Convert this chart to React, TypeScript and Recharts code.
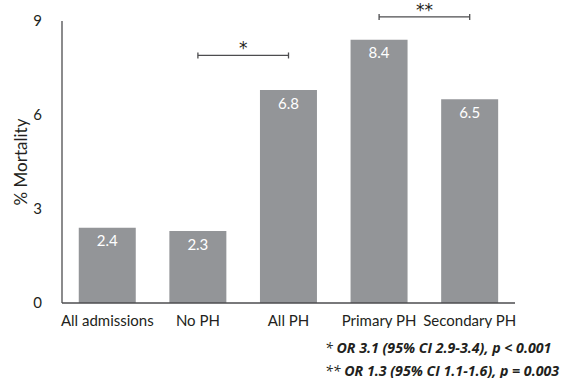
import React from 'react';
import {
  BarChart,
  Bar,
  XAxis,
  YAxis,
  LabelList,
  ReferenceLine,
  Label
} from 'recharts';

const categories = ['All admissions', 'No PH', 'All PH', 'Primary PH', 'Secondary PH'];
const mortality = [2.4, 2.3, 6.8, 8.4, 6.5];
const yTicks = [0, 3, 6, 9];

// significance brackets between category pairs
const bracketFrom = ['No PH', 'Primary PH'];
const bracketTo = ['All PH', 'Secondary PH'];
const bracketLevel = [7.9, 9.13];
const bracketMark = ['*', '**'];

const footnoteMarks = ['*', '**'];
const footnoteTexts = ['OR 3.1 (95% CI 2.9-3.4), p < 0.001', 'OR 1.3 (95% CI 1.1-1.6), p = 0.003'];

const data = categories.map((name, i) => ({ name, value: mortality[i] }));

const FONT = 'Lato, "Open Sans", sans-serif';
const BAR = '#939598';
const AXIS = '#4d4d4f';
const TEXT = '#231f20';

const bracketShape = (mark: string) => (props: any) => {
  const { x1, y1, x2, y2 } = props;
  return (
    <g>
      <line x1={x1} y1={y1} x2={x2} y2={y2} stroke={AXIS} strokeWidth={1.3} />
      <line x1={x1} y1={y1 - 3} x2={x1} y2={y1 + 3} stroke={AXIS} strokeWidth={1.3} />
      <line x1={x2} y1={y2 - 3} x2={x2} y2={y2 + 3} stroke={AXIS} strokeWidth={1.3} />
      <text
        x={(x1 + x2) / 2}
        y={y1 - 1}
        textAnchor="middle"
        fontSize={17}
        fontFamily="'DejaVu Sans', sans-serif"
        fill={TEXT}
      >
        {mark}
      </text>
    </g>
  );
};

const YTitle = (props: any) => {
  const { viewBox } = props;
  const cx = 20;
  const cy = viewBox.y + viewBox.height / 2;
  return (
    <text
      x={cx}
      y={cy}
      transform={`rotate(-90 ${cx} ${cy})`}
      textAnchor="middle"
      dominantBaseline="central"
      fontSize={17}
      fontFamily={FONT}
      fill={TEXT}
    >
      % Mortality
    </text>
  );
};

export default function App() {
  return (
    <div
      style={{
        position: 'absolute',
        top: 0,
        left: 0,
        width: 565,
        height: 378,
        overflow: 'hidden',
        background: '#ffffff',
        fontFamily: FONT
      }}
    >
      <BarChart
        width={565}
        height={328}
        data={data}
        margin={{ top: 21, right: 50, bottom: 0, left: 0 }}
        barCategoryGap="18.5%"
      >
        <XAxis
          dataKey="name"
          interval={0}
          tickSize={0}
          tickMargin={12}
          height={25}
          axisLine={{ stroke: AXIS, strokeWidth: 1.3 }}
          tickLine={false}
          tick={{ fill: TEXT, fontSize: 15, fontFamily: FONT }}
        />
        <YAxis
          domain={[0, 9]}
          ticks={yTicks}
          width={62}
          tickSize={0}
          tickMargin={20}
          axisLine={{ stroke: AXIS, strokeWidth: 1.3 }}
          tickLine={false}
          tick={{ fill: TEXT, fontSize: 15, fontFamily: FONT }}
        >
          <Label content={<YTitle />} />
        </YAxis>
        <Bar dataKey="value" fill={BAR} isAnimationActive={false}>
          <LabelList
            dataKey="value"
            position="insideTop"
            offset={8}
            fill="#ffffff"
            fontSize={15}
            fontFamily={FONT}
            formatter={(v: any) => Number(v).toFixed(1)}
          />
        </Bar>
        {bracketMark.map((mark, i) => (
          <ReferenceLine
            key={mark}
            ifOverflow="visible"
            segment={[
              { x: bracketFrom[i], y: bracketLevel[i] },
              { x: bracketTo[i], y: bracketLevel[i] }
            ]}
            shape={bracketShape(mark)}
          />
        ))}
      </BarChart>
      {footnoteTexts.map((t, i) => (
        <div
          key={i}
          style={{
            position: 'absolute',
            left: 325,
            top: 339 + i * 23,
            fontSize: 14.2,
            lineHeight: '18px',
            fontFamily: '"Open Sans", sans-serif',
            fontStyle: 'italic',
            color: TEXT,
            whiteSpace: 'nowrap'
          }}
        >
          <span>{footnoteMarks[i]} </span>
          <span style={{ fontWeight: 'bold' }}>{t}</span>
        </div>
      ))}
    </div>
  );
}
